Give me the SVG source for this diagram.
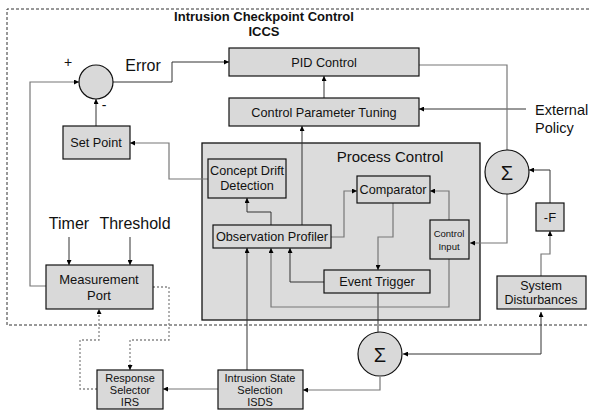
<svg xmlns="http://www.w3.org/2000/svg" width="589" height="411" viewBox="0 0 589 411">
<defs>
<marker id="ah" viewBox="0 0 10 10" refX="10" refY="5" markerWidth="5" markerHeight="5" orient="auto-start-reverse" markerUnits="userSpaceOnUse"><path d="M0,0 L10,5 L0,10 z" fill="#000"/></marker>
<style>
.box{fill:#d9d9d9;stroke:#111;stroke-width:1.2}
.pc{fill:#dcdcdc;stroke:#111;stroke-width:1.3}
.t{font-family:"Liberation Sans",Arial,sans-serif;fill:#111;text-anchor:middle}
.c{fill:none;stroke:#333;stroke-width:1}
.g{fill:none;stroke:#777;stroke-width:1.2}
.d{fill:none;stroke:#888;stroke-width:1.3;stroke-dasharray:2,2}
.a{marker-end:url(#ah)}
</style>
</defs>
<rect width="589" height="411" fill="#fff"/>
<path d="M589,9 H7 V325 H589" fill="none" stroke="#333" stroke-width="1" stroke-dasharray="3,2"/>
<text class="t" x="264" y="21" font-size="13" font-weight="bold">Intrusion Checkpoint Control</text>
<text class="t" x="264" y="36" font-size="13" font-weight="bold">ICCS</text>

<g id="process-control"><rect class="pc" x="202" y="143" width="278" height="177"/><text class="t" x="390" y="162" font-size="15">Process Control</text></g>

<g id="connectors">
<path class="c a" d="M113,82 H172 V62 H229"/>
<path class="c a" d="M324,98 V76"/>
<path class="c a" d="M526,109 H419"/>
<path class="g" d="M408,65 H507 V150"/>
<path class="g a" d="M507,194 V243 H470"/>
<path class="c a" d="M550,203 V170 H529"/>
<path class="g a" d="M541,276 V254 H550 V231"/>
<path class="c a" d="M541,312 V354 H403" marker-start="url(#ah)"/>
<path class="c" d="M378,293 V332"/>
<path class="g a" d="M380,377 V390 H303"/>
<path class="g a" d="M218,389 H163"/>
<path class="c a" d="M247,370 V248"/>
<path class="g a" d="M331,237 H344 V191 H357"/>
<path class="g a" d="M449,220 V191 H430"/>
<path class="g a" d="M393,203 V237 H378 V270"/>
<path class="c a" d="M271,225 V212 H247 V198"/>
<path class="c a" d="M302,225 V126"/>
<path class="g a" d="M208,179 H169 V143 H130"/>
<path class="c a" d="M96,126 V99"/>
<path class="g a" d="M46,286 H30 V82 H79"/>
<path class="c a" d="M69,237 V265"/>
<path class="c a" d="M130,237 V265"/>
<path class="g a" d="M449,259 V307 H271 V248"/>
<path class="c a" d="M324,282 H290 V248"/>
<path class="d a" d="M153,287 H169 V340 H130 V370"/>
<path class="d a" d="M97,389 H80 V340 H99 V309"/>
</g>

<g id="sum-error"><circle cx="96" cy="82" r="17" fill="#d9d9d9" stroke="#111" stroke-width="1.2"/></g>
<text class="t" x="68" y="67" font-size="14">+</text>
<text class="t" x="104" y="110" font-size="14">-</text>
<text class="t" x="143" y="71" font-size="16">Error</text>

<g id="pid"><rect class="box" x="229" y="48" width="190" height="28"/><text class="t" x="324" y="67" font-size="12.7">PID Control</text></g>
<g id="cpt"><rect class="box" x="229" y="98" width="190" height="28"/><text class="t" x="324" y="117" font-size="12.7">Control Parameter Tuning</text></g>
<g id="external-policy"><text class="t" x="535" y="115" font-size="14.5" style="text-anchor:start">External</text><text class="t" x="535" y="133" font-size="14.5" style="text-anchor:start">Policy</text></g>
<g id="set-point"><rect class="box" x="63" y="126" width="67" height="33"/><text class="t" x="96" y="147" font-size="12.7">Set Point</text></g>
<g id="cdd"><rect class="box" x="208" y="159" width="78" height="39"/><text class="t" x="247" y="175" font-size="12.7">Concept Drift</text><text class="t" x="247" y="190" font-size="12.7">Detection</text></g>
<g id="comparator"><rect class="box" x="357" y="176" width="73" height="27"/><text class="t" x="393" y="194" font-size="12.7">Comparator</text></g>
<g id="obs-profiler"><rect class="box" x="213" y="225" width="118" height="23"/><text class="t" x="272" y="241" font-size="12.7">Observation Profiler</text></g>
<g id="control-input"><rect class="box" x="430" y="220" width="39" height="39"/><text class="t" x="449" y="237" font-size="9.5">Control</text><text class="t" x="449" y="250" font-size="9.5">Input</text></g>
<g id="event-trigger"><rect class="box" x="324" y="270" width="106" height="23"/><text class="t" x="377" y="286" font-size="12.7">Event Trigger</text></g>
<g id="sum-right"><circle cx="507" cy="172" r="22" fill="#d9d9d9" stroke="#111" stroke-width="1.2"/><text class="t" x="507" y="180" font-size="20" font-family="Liberation Serif">Σ</text></g>
<g id="neg-f"><rect class="box" x="536" y="203" width="28" height="28"/><text class="t" x="550" y="222" font-size="13">-F</text></g>
<g id="sys-dist"><rect class="box" x="497" y="276" width="89" height="33"/><text class="t" x="541" y="290" font-size="12.5">System</text><text class="t" x="541" y="304" font-size="12.5">Disturbances</text></g>
<g id="timer-threshold"><text class="t" x="69" y="229" font-size="16">Timer</text><text class="t" x="135" y="229" font-size="16">Threshold</text></g>
<g id="measurement-port"><rect class="box" x="46" y="265" width="107" height="44"/><text class="t" x="99" y="284" font-size="13">Measurement</text><text class="t" x="99" y="300" font-size="13">Port</text></g>
<g id="sum-bottom"><circle cx="380" cy="354" r="22" fill="#d9d9d9" stroke="#111" stroke-width="1.2"/><text class="t" x="380" y="362" font-size="20" font-family="Liberation Serif">Σ</text></g>
<g id="isds"><rect class="box" x="218" y="370" width="85" height="39"/><text class="t" x="260" y="382" font-size="11">Intrusion State</text><text class="t" x="260" y="394" font-size="11">Selection</text><text class="t" x="260" y="406" font-size="11">ISDS</text></g>
<g id="irs"><rect class="box" x="97" y="370" width="66" height="39"/><text class="t" x="130" y="382" font-size="11">Response</text><text class="t" x="130" y="394" font-size="11">Selector</text><text class="t" x="130" y="406" font-size="11">IRS</text></g>
</svg>
